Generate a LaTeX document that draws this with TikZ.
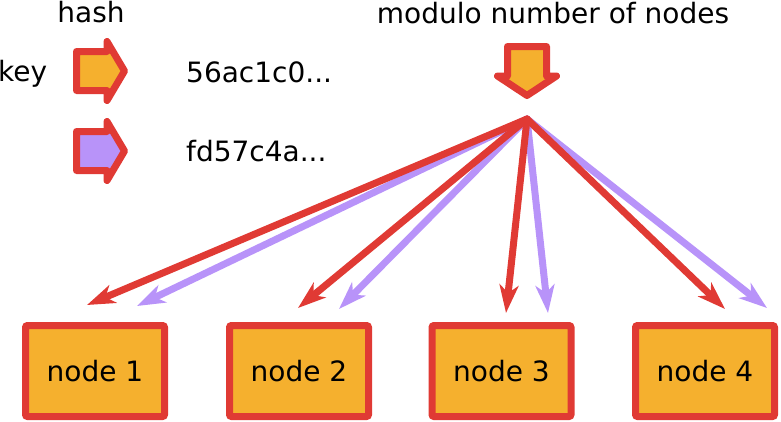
\documentclass[tikz,border=0pt]{standalone}
\usepackage{fontspec}
\setmainfont{DejaVu Sans}
\usetikzlibrary{arrows.meta}
\definecolor{hred}{HTML}{E03A34}
\definecolor{horange}{HTML}{F5B02E}
\definecolor{hpurple}{HTML}{B893F9}
\begin{document}
\begin{tikzpicture}[x=1pt,y=-1pt,
  txt/.style={font=\fontsize{28}{32}\selectfont,inner sep=0pt},
  nodebox/.style={draw=hred,fill=horange,line width=7pt,rounded corners=2pt,
    minimum width=139pt,minimum height=91pt,inner sep=0pt,font=\fontsize{28}{32}\selectfont},
  shapeline/.style={draw=hred,line width=7pt,line join=round},
  fanred/.style={draw=hred,line width=7pt,line cap=round,-{Stealth[length=28pt,width=19pt,inset=8pt]}},
  fanpurple/.style={draw=hpurple,line width=7pt,line cap=round,-{Stealth[length=28pt,width=19pt,inset=8pt]}}]
\useasboundingbox (0,0) rectangle (781,421);
% labels
\node[txt,anchor=base] (hash) at (91,22) {hash};
\node[txt,anchor=base] (modulo) at (553,23) {modulo number of nodes};
\node[txt,anchor=base west] (key) at (-2,81) {key};
\node[txt,anchor=base west] (h1) at (186,82) {56ac1c0...};
\node[txt,anchor=base west] (h2) at (186,161) {fd57c4a...};
% hash arrows
\path[shapeline,fill=horange] (76.5,51.5) -- (107,51.5) -- (107,41.5) -- (124.5,71) -- (107,100.5) -- (107,90.5) -- (76.5,90.5) -- cycle;
\path[shapeline,fill=hpurple] (76.5,131.5) -- (107,131.5) -- (107,121.5) -- (124.5,151) -- (107,180.5) -- (107,170.5) -- (76.5,170.5) -- cycle;
% modulo arrow
\path[shapeline,fill=horange] (507.5,46.5) -- (546.5,46.5) -- (546.5,76) -- (556.5,76) -- (527,95.5) -- (497.5,76) -- (507.5,76) -- cycle;
% nodes
\node[nodebox] (n1) at (95,371) {node 1};
\node[nodebox] (n2) at (299,371) {node 2};
\node[nodebox] (n3) at (501.5,371) {node 3};
\node[nodebox] (n4) at (705,371) {node 4};
% fan
\coordinate (fan) at (527,119);
\coordinate (r1) at (87,305);
\coordinate (p1) at (137,306);
\coordinate (r2) at (298,308);
\coordinate (p2) at (339,309);
\coordinate (r3) at (506,313);
\coordinate (p3) at (548,313);
\coordinate (r4) at (725,309);
\coordinate (p4) at (767,308);
\draw[fanpurple] (fan) -- (p1);
\draw[fanpurple] (fan) -- (p2);
\draw[fanpurple] (fan) -- (p3);
\draw[fanpurple] (fan) -- (p4);
\draw[fanred] (fan) -- (r1);
\draw[fanred] (fan) -- (r2);
\draw[fanred] (fan) -- (r3);
\draw[fanred] (fan) -- (r4);
\end{tikzpicture}
\end{document}
